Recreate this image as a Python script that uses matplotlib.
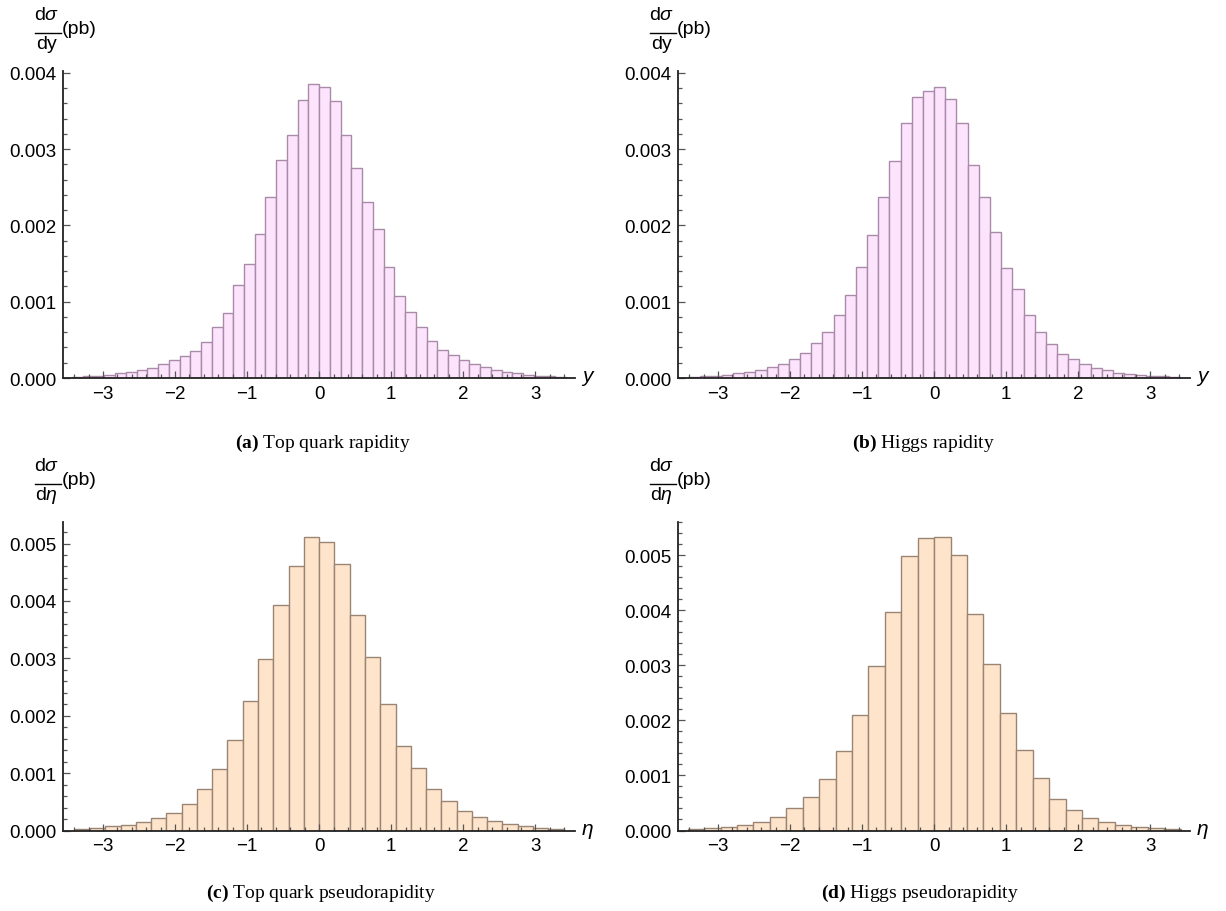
import numpy as np
import matplotlib
matplotlib.use("Agg")
import matplotlib.pyplot as plt
from matplotlib.lines import Line2D
from matplotlib.ticker import MultipleLocator, FormatStrFormatter

plt.rcParams['font.family'] = ['Liberation Sans', 'DejaVu Sans']
plt.rcParams['mathtext.fontset'] = 'custom'
plt.rcParams['mathtext.rm'] = 'Liberation Sans'
plt.rcParams['mathtext.it'] = 'Liberation Sans:italic'
plt.rcParams['mathtext.bf'] = 'Liberation Serif:bold'

# (a) top quark rapidity: first bin index and bin width, then heights (pb)
top_y_first = -23
top_y_width = 0.149
top_y = [0.000012, 0.00002, 0.00003, 0.00004, 0.00006, 0.00008, 0.0001,
         0.00013, 0.00018, 0.00024, 0.00029, 0.00036, 0.00047,
         0.00067, 0.00085, 0.00122, 0.0015, 0.00189, 0.00237, 0.00286,
         0.00319, 0.00365, 0.00385,
         0.00381, 0.00363, 0.00319, 0.00275, 0.00231, 0.00196, 0.00145,
         0.00107, 0.00086, 0.00067,
         0.00048, 0.00037, 0.0003, 0.00023, 0.00018, 0.00014, 0.0001,
         0.00008, 0.00006, 0.00004, 0.00003, 0.00002, 0.00001]

# (b) Higgs rapidity
higgs_y_first = -23
higgs_y_width = 0.155
higgs_y = [0.000005, 0.00001, 0.00002, 0.00003, 0.00004, 0.00006, 0.00008,
           0.0001, 0.00014, 0.00019, 0.00025, 0.00033, 0.00046,
           0.0006, 0.00083, 0.00109, 0.00145, 0.00187, 0.00237, 0.00284,
           0.00334, 0.00369, 0.00376,
           0.00382, 0.00366, 0.00335, 0.00279, 0.00238, 0.00191, 0.00144,
           0.00117,
           0.00083, 0.0006, 0.00045, 0.00032, 0.00025, 0.00018, 0.00013,
           0.0001, 0.00007, 0.00005, 0.00004, 0.00003, 0.00002, 0.00001]

# (c) top quark pseudorapidity
top_eta_first = -16
top_eta_width = 0.212
top_eta = [0.00003, 0.00005, 0.00007, 0.0001, 0.00015, 0.00021, 0.00031,
           0.00046, 0.00072,
           0.00108, 0.00158, 0.00226, 0.00298, 0.00393, 0.00461, 0.00512,
           0.00503, 0.00465, 0.00376, 0.00302, 0.0022, 0.00148, 0.00109,
           0.00073, 0.00051, 0.00034, 0.00024, 0.00016, 0.00011, 0.00008,
           0.00005, 0.00003]

# (d) Higgs pseudorapidity
higgs_eta_first = -15
higgs_eta_width = 0.228
higgs_eta = [0.00002, 0.00004, 0.00006, 0.0001, 0.00015, 0.00025, 0.0004,
             0.0006,
             0.00094, 0.00144, 0.0021, 0.00298, 0.00397, 0.00498, 0.00532,
             0.00533, 0.00501, 0.00394, 0.00302, 0.00213, 0.00146, 0.00096,
             0.00058, 0.00037, 0.00022, 0.00015, 0.0001, 0.00006, 0.00004,
             0.00002]

captions = [r'$\mathbf{(a)}$ Top quark rapidity',
            r'$\mathbf{(b)}$ Higgs rapidity',
            r'$\mathbf{(c)}$ Top quark pseudorapidity',
            r'$\mathbf{(d)}$ Higgs pseudorapidity']

pink_face, pink_edge = '#fde4fd', '#a98aa9'
peach_face, peach_edge = '#ffe4cc', '#9a8574'

W, H = 1226, 912
fig = plt.figure(figsize=(W / 100, H / 100), dpi=100)


def px(x, y):
    # pixel position (from top-left) to figure fraction
    return x / W, 1 - y / H


def panel(left, top, bottom, first, width, heights, ymax, face, edge,
          var, den, caption, cap_xy):
    rect = [left / W, 1 - bottom / H, 511.7 / W, (bottom - top) / H]
    ax = fig.add_axes(rect)
    edges = (np.arange(len(heights)) + first) * width
    ax.bar(edges, heights, width=width, align='edge', color=face,
           edgecolor=edge, linewidth=1.0)
    ax.set_xlim(-3.55, 3.55)
    ax.set_ylim(0, ymax)
    for s in ['top', 'right']:
        ax.spines[s].set_visible(False)
    for s in ['left', 'bottom']:
        ax.spines[s].set_linewidth(1.3)
        ax.spines[s].set_color('#222222')
    ax.xaxis.set_minor_locator(MultipleLocator(0.2))
    ax.yaxis.set_major_locator(MultipleLocator(0.001))
    ax.yaxis.set_minor_locator(MultipleLocator(0.0002))
    ax.yaxis.set_major_formatter(FormatStrFormatter('%.3f'))
    ax.set_xticks([-3, -2, -1, 0, 1, 2, 3])
    ax.tick_params(which='both', direction='in', color='#555555',
                   labelsize=13.5, width=0.9)
    ax.tick_params(which='major', length=5, pad=5)
    ax.tick_params(which='minor', length=3)
    ax.text(1.012, 0, var, transform=ax.transAxes, fontsize=15,
            ha='left', va='center')

    # d sigma / d var (pb) label above the y axis
    fig.text(*px(left - 16.5, top - 56), r'd$\sigma$', fontsize=14,
             ha='center', va='center')
    fig.text(*px(left - 17, top - 27), den, fontsize=14,
             ha='center', va='center')
    x1, yb = px(left - 28.5, top - 38)
    x2, _ = px(left - 2.5, top - 38)
    fig.add_artist(Line2D([x1, x2], [yb, yb], color='black', lw=1.0,
                          transform=fig.transFigure))
    fig.text(*px(left - 1.5, top - 42), '(pb)', fontsize=14,
             ha='left', va='center')

    fig.text(*px(*cap_xy), caption, fontsize=14,
             family='Liberation Serif', ha='center', va='center')
    return ax


panel(63.3, 71.7, 379, top_y_first, top_y_width, top_y, 0.00403,
      pink_face, pink_edge, r'$y$', 'dy', captions[0], (323, 443))
panel(678.3, 71.7, 379, higgs_y_first, higgs_y_width, higgs_y, 0.00403,
      pink_face, pink_edge, r'$y$', 'dy', captions[1], (923, 443))
panel(63.3, 522.7, 831.5, top_eta_first, top_eta_width, top_eta, 0.00538,
      peach_face, peach_edge, r'$\eta$', r'd$\eta$', captions[2], (321, 893))
panel(678.3, 522.7, 831.5, higgs_eta_first, higgs_eta_width, higgs_eta,
      0.00561, peach_face, peach_edge, r'$\eta$', r'd$\eta$', captions[3],
      (920, 893))

fig.savefig('out.png', dpi=100)
